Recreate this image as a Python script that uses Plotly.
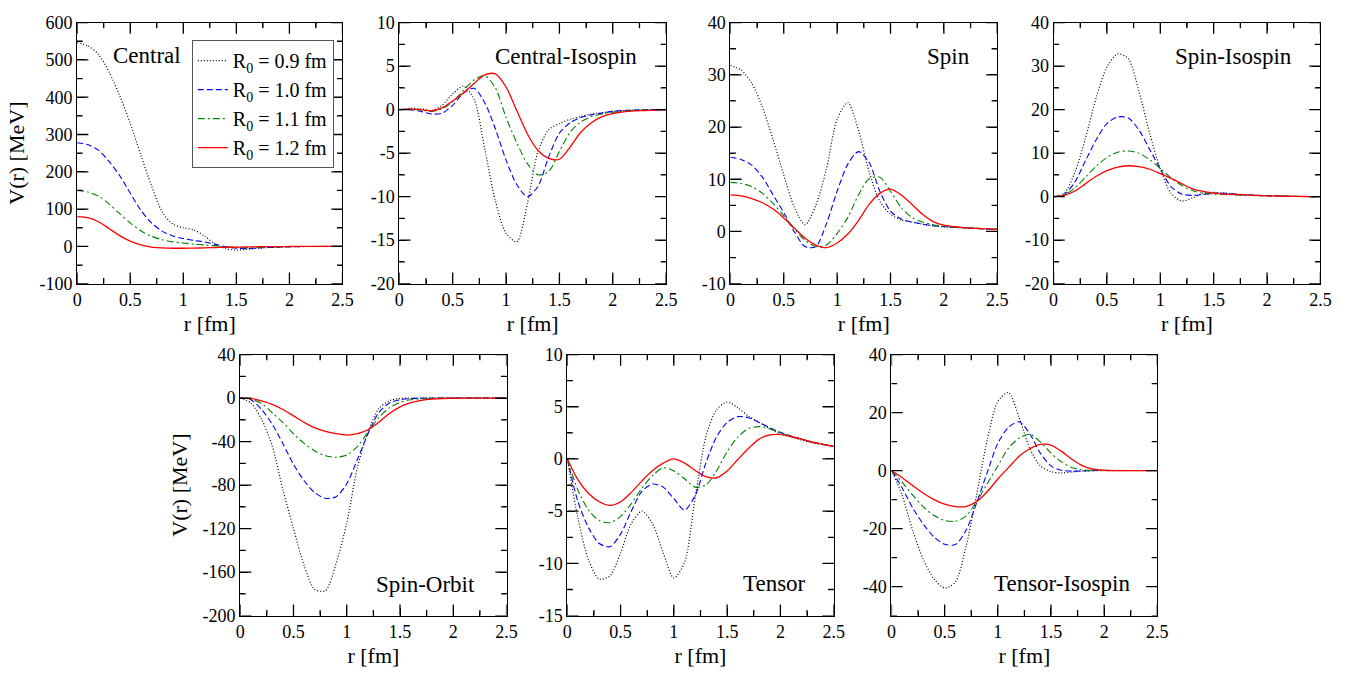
import plotly.graph_objects as go

W, H = 1365, 678

# radial grid [fm]
r = [0.0, 0.1, 0.2, 0.3, 0.4, 0.5, 0.6, 0.7, 0.8, 0.9, 1.0, 1.1, 1.2,
     1.3, 1.4, 1.5, 1.6, 1.7, 1.8, 1.9, 2.0, 2.1, 2.2, 2.3, 2.4, 2.5]

series_names = ["R<sub>0</sub> = 0.9 fm", "R<sub>0</sub> = 1.0 fm",
                "R<sub>0</sub> = 1.1 fm", "R<sub>0</sub> = 1.2 fm"]

# Central
central_09 = [546, 538, 515, 468, 405, 330, 245, 163, 93, 60, 50, 44, 28, 6, -6, -10, -8, -5, -3, -2, -1, -0.5, -0.3, -0.2, -0.1, 0]
central_10 = [278, 273, 258, 228, 190, 143, 97, 63, 41, 28, 21, 16, 12, 6, -1, -5, -6, -4.5, -3, -2, -1, -0.5, -0.3, -0.2, -0.1, 0]
central_11 = [150, 146, 135, 114, 88, 63, 42, 27, 18, 12, 9, 6, 4, 2, -1, -3, -4, -3, -2, -1, -0.5, -0.3, -0.2, -0.1, 0, 0]
central_12 = [80, 77, 66, 48, 29, 14, 4, -2, -4, -5, -5, -4.5, -4, -3, -2.5, -2, -1.5, -1, -0.7, -0.5, -0.3, -0.2, -0.1, 0, 0, 0]

# Central-Isospin
ciso_09 = [0, 0.15, 0.1, -0.1, 0.5, 1.8, 2.7, 1.2, -4.5, -10.5, -14.2, -15.2, -10.8, -4.8, -2.3, -1.6, -1.1, -0.8, -0.5, -0.35, -0.2, -0.1, -0.05, 0, 0, 0]
ciso_10 = [0, 0, -0.2, -0.5, -0.4, 0.5, 1.9, 2.45, 0.8, -2.2, -5.8, -8.6, -10.0, -8.8, -5.4, -2.7, -1.5, -0.9, -0.6, -0.4, -0.2, -0.1, -0.05, 0, 0, 0]
ciso_11 = [0, 0.05, -0.05, -0.2, 0.1, 0.9, 2.2, 3.4, 3.9, 2.5, -0.9, -3.8, -6.2, -7.5, -7.1, -4.8, -2.6, -1.4, -0.8, -0.5, -0.3, -0.2, -0.1, -0.05, 0, 0]
ciso_12 = [0, 0.05, 0, -0.15, 0.2, 1.0, 1.9, 3.0, 4.0, 4.1, 2.6, -0.1, -2.8, -4.7, -5.6, -5.7, -4.3, -2.6, -1.5, -0.8, -0.45, -0.25, -0.15, -0.1, -0.05, 0]

# Spin
spin_09 = [31.8, 30.9, 28.4, 23.8, 17.6, 10.8, 4.6, 1.3, 5.0, 12.0, 21.5, 24.7, 19.4, 11.4, 5.8, 3.3, 2.2, 1.8, 1.4, 1.1, 0.9, 0.8, 0.7, 0.6, 0.5, 0.4]
spin_10 = [14.2, 13.8, 12.7, 10.4, 7.0, 3.6, -0.1, -2.9, -2.9, 1.5, 7.7, 12.9, 15.3, 13.2, 7.7, 3.9, 2.4, 1.8, 1.4, 1.1, 0.9, 0.8, 0.7, 0.6, 0.5, 0.4]
spin_11 = [9.4, 9.2, 8.6, 7.3, 5.4, 3.0, 0.5, -1.7, -2.9, -2.6, -0.4, 2.7, 7.0, 10.1, 10.4, 7.7, 4.6, 2.7, 1.8, 1.3, 1.0, 0.8, 0.7, 0.6, 0.5, 0.4]
spin_12 = [7.0, 6.8, 6.3, 5.5, 4.3, 2.6, 0.6, -1.3, -2.6, -3.1, -2.2, -0.5, 2.1, 5.2, 7.3, 8.1, 7.0, 5.2, 3.3, 1.9, 1.2, 0.9, 0.7, 0.6, 0.5, 0.4]

# Spin-Isospin
siso_09 = [0, 0.8, 5.6, 13.5, 22.8, 29.8, 32.8, 31.7, 24.2, 14.6, 6.4, 0.8, -1.0, -0.3, 0.8, 1.0, 0.8, 0.6, 0.4, 0.3, 0.2, 0.15, 0.1, 0.05, 0.02, 0]
siso_10 = [0, 0.5, 3.4, 8.3, 13.1, 16.8, 18.3, 18.1, 15.3, 10.9, 6.4, 2.3, 0.6, 0.3, 0.5, 0.8, 0.8, 0.6, 0.4, 0.3, 0.2, 0.15, 0.1, 0.05, 0.02, 0]
siso_11 = [0, 0.4, 2.0, 4.5, 7.0, 9.0, 10.2, 10.5, 10.0, 8.5, 6.5, 4.3, 2.6, 1.4, 0.8, 0.6, 0.5, 0.4, 0.3, 0.25, 0.2, 0.15, 0.1, 0.05, 0.02, 0]
siso_12 = [0, 0.3, 1.3, 3.0, 4.7, 6.0, 6.8, 7.1, 6.9, 6.3, 5.3, 4.2, 3.0, 1.8, 1.2, 0.8, 0.6, 0.5, 0.4, 0.3, 0.2, 0.15, 0.1, 0.05, 0.02, 0]

# Spin-Orbit
so_09 = [0, -4.6, -19.4, -44, -84, -120, -154, -176, -177, -152, -115, -64, -31, -10, -2.5, -0.5, 0, 0, 0, 0, 0, 0, 0, 0, 0, 0]
so_10 = [0, -1.5, -10.5, -24, -41.7, -61, -76, -87, -92.2, -90.7, -78.8, -56.5, -32.8, -13.5, -4.6, -1.6, -0.5, -0.2, 0, 0, 0, 0, 0, 0, 0, 0]
so_11 = [0, -1, -5, -13.5, -22.4, -32.8, -41.7, -48.6, -53, -54.5, -52.2, -44.6, -31.3, -17.9, -9, -4, -1.6, -0.7, -0.3, -0.1, 0, 0, 0, 0, 0, 0]
so_12 = [0, -0.5, -2.5, -5.8, -10.5, -16.4, -22.4, -27.4, -30.7, -32.8, -34, -32.8, -29.2, -22.4, -14.3, -8.1, -4.3, -2.2, -1, -0.4, -0.2, 0, 0, 0, 0, 0]

# Tensor
ten_09 = [0, -5.7, -9.7, -11.5, -11.2, -9.0, -6.2, -5.0, -6.2, -9.0, -11.4, -9.9, -3.7, 2.1, 4.7, 5.45, 4.9, 4.1, 3.5, 2.9, 2.4, 2.1, 1.8, 1.55, 1.35, 1.2]
ten_10 = [0, -4.1, -6.6, -8.1, -8.4, -7.2, -5.0, -3.1, -2.4, -2.7, -3.8, -4.9, -3.5, -0.4, 2.1, 3.5, 4.05, 3.95, 3.5, 3.0, 2.55, 2.2, 1.9, 1.6, 1.4, 1.2]
ten_11 = [0, -3.0, -4.9, -5.9, -6.1, -5.5, -4.3, -2.8, -1.6, -0.85, -1.15, -1.9, -2.7, -2.5, -1.15, 0.7, 2.1, 2.9, 3.1, 2.9, 2.5, 2.15, 1.9, 1.6, 1.4, 1.2]
ten_12 = [0, -2.0, -3.3, -4.1, -4.45, -4.1, -3.2, -2.1, -1.1, -0.4, 0.0, -0.4, -1.1, -1.7, -1.8, -1.15, -0.05, 1.0, 1.9, 2.3, 2.35, 2.15, 1.9, 1.6, 1.4, 1.2]

# Tensor-Isospin
tiso_09 = [0, -8.5, -20.7, -30.7, -37.4, -40.5, -38.5, -26.3, -8.5, 10.5, 23.8, 26.9, 18.3, 7.7, 1.6, -0.4, -0.8, -0.5, -0.2, -0.1, 0, 0, 0, 0, 0, 0]
tiso_10 = [0, -6, -12.9, -18.5, -22.9, -25.4, -25.5, -20.7, -11.2, -0.7, 9.4, 14.9, 16.8, 12.7, 6.0, 1.6, 0.1, -0.2, -0.1, 0, 0, 0, 0, 0, 0, 0]
tiso_11 = [0, -4, -8.5, -12.5, -15.5, -17.2, -17.5, -15.7, -10.7, -4.6, 1.6, 7.7, 11.2, 12.5, 9.9, 6.0, 2.9, 1.0, 0.2, 0.05, 0, 0, 0, 0, 0, 0]
tiso_12 = [0, -2.5, -5.2, -7.8, -10.0, -11.6, -12.4, -12.4, -10.7, -7.3, -2.9, 1.0, 4.9, 7.5, 9.0, 8.8, 6.6, 3.8, 1.6, 0.45, 0.1, 0, 0, 0, 0, 0]

# tick labels
x_range = [0, 2.5]
x_ticks = [0, 0.5, 1, 1.5, 2, 2.5]
x_ticklabels = ["0", "0.5", "1", "1.5", "2", "2.5"]
x_minor = [0.25, 0.75, 1.25, 1.75, 2.25]

panels = [
    dict(label="Central", data=[central_09, central_10, central_11, central_12],
         yrange=[-100, 600], yticks=[-100, 0, 100, 200, 300, 400, 500, 600],
         yminor=[-50, 50, 150, 250, 350, 450, 550],
         box=(73, 13, 341.5, 282), lab=(0.127, 0.874, "left")),
    dict(label="Central-Isospin", data=[ciso_09, ciso_10, ciso_11, ciso_12],
         yrange=[-20, 10], yticks=[-20, -15, -10, -5, 0, 5, 10],
         yminor=[-17.5, -12.5, -7.5, -2.5, 2.5, 7.5],
         box=(399, 13, 669, 282), lab=(0.899, 0.87, "right")),
    dict(label="Spin", data=[spin_09, spin_10, spin_11, spin_12],
         yrange=[-10, 40], yticks=[-10, 0, 10, 20, 30, 40],
         yminor=[-5, 5, 15, 25, 35],
         box=(734, 13, 1004, 282), lab=(0.904, 0.87, "right")),
    dict(label="Spin-Isospin", data=[siso_09, siso_10, siso_11, siso_12],
         yrange=[-20, 40], yticks=[-20, -10, 0, 10, 20, 30, 40],
         yminor=[-15, -5, 5, 15, 25, 35],
         box=(1061, 13, 1331, 282), lab=(0.9, 0.87, "right")),
    dict(label="Spin-Orbit", data=[so_09, so_10, so_11, so_12],
         yrange=[-200, 40], yticks=[-200, -160, -120, -80, -40, 0, 40],
         yminor=[-180, -140, -100, -60, -20, 20],
         box=(238, 355, 507.5, 624), lab=(0.89, 0.12, "right")),
    dict(label="Tensor", data=[ten_09, ten_10, ten_11, ten_12],
         yrange=[-15, 10], yticks=[-15, -10, -5, 0, 5, 10],
         yminor=[-12.5, -7.5, -2.5, 2.5, 7.5],
         box=(569, 355, 838.5, 624), lab=(0.904, 0.124, "right")),
    dict(label="Tensor-Isospin", data=[tiso_09, tiso_10, tiso_11, tiso_12],
         yrange=[-50, 40], yticks=[-40, -20, 0, 20, 40],
         yminor=[-50, -30, -10, 10, 30],
         box=(897, 355, 1166, 624), lab=(0.903, 0.124, "right")),
]

line_styles = [
    dict(color="#000000", dash="1px,2px", width=1.2),
    dict(color="#0000ff", dash="6px,3px", width=1.1),
    dict(color="#008000", dash="7px,3px,2px,3px", width=1.1),
    dict(color="#ff0000", dash="solid", width=1.3),
]

MAJOR_LEN, MINOR_LEN = 8, 4
FONT = "Liberation Serif"
fig = go.Figure()
layout = {}
annotations = []


def tick_marks(xs, ys, symbol, length, xa, ya):
    # inward-pointing tick marks: markers centred on the frame, clipped to the plot area
    return go.Scatter(x=xs, y=ys, mode="markers", xaxis=xa, yaxis=ya, showlegend=False,
                      hoverinfo="skip", cliponaxis=True,
                      marker=dict(symbol=symbol, size=2 * length, color="black",
                                  line=dict(color="black", width=1.3)))


for k, p in enumerate(panels, start=1):
    xa = "x" if k == 1 else f"x{k}"
    ya = "y" if k == 1 else f"y{k}"
    for i, ys in enumerate(p["data"]):
        fig.add_trace(go.Scatter(
            x=r, y=ys, mode="lines", line=dict(shape="spline", smoothing=0.8, **line_styles[i]),
            name=series_names[i], showlegend=(k == 1), xaxis=xa, yaxis=ya,
            hoverinfo="skip"))
    y_lo, y_hi = p["yrange"]
    fig.add_trace(tick_marks(x_ticks * 2, [y_lo] * len(x_ticks) + [y_hi] * len(x_ticks),
                             "line-ns", MAJOR_LEN, xa, ya))
    fig.add_trace(tick_marks(x_minor * 2, [y_lo] * len(x_minor) + [y_hi] * len(x_minor),
                             "line-ns", MINOR_LEN, xa, ya))
    fig.add_trace(tick_marks([x_range[0]] * len(p["yticks"]) + [x_range[1]] * len(p["yticks"]),
                             p["yticks"] * 2, "line-ew", MAJOR_LEN, xa, ya))
    fig.add_trace(tick_marks([x_range[0]] * len(p["yminor"]) + [x_range[1]] * len(p["yminor"]),
                             p["yminor"] * 2, "line-ew", MINOR_LEN, xa, ya))

    x0, y0, x1, y1 = p["box"]
    common = dict(showline=True, linecolor="black", linewidth=1.1, mirror="allticks",
                  ticks="inside", ticklen=MAJOR_LEN, tickwidth=1.3, tickcolor="black",
                  showgrid=False, zeroline=False,
                  tickfont=dict(family=FONT, size=18, color="black"))
    minor = dict(ticks="inside", ticklen=MINOR_LEN, tickwidth=1.3, tickcolor="black",
                 showgrid=False)
    layout["xaxis" if k == 1 else f"xaxis{k}"] = dict(
        domain=[x0 / W, x1 / W], range=x_range, anchor=ya,
        tickmode="array", tickvals=x_ticks, ticktext=x_ticklabels,
        minor=dict(tickmode="array", tickvals=x_minor, **minor),
        title=dict(text="r [fm]", font=dict(family=FONT, size=22, color="black"), standoff=6),
        **common)
    yax = dict(
        domain=[1 - y1 / H, 1 - y0 / H], range=p["yrange"], anchor=xa,
        tickmode="array", tickvals=p["yticks"], ticktext=[str(v) for v in p["yticks"]],
        minor=dict(tickmode="array", tickvals=p["yminor"], **minor),
        **common)
    if k in (1, 5):
        yax["title"] = dict(text="V(r) [MeV]", font=dict(family=FONT, size=22, color="black"),
                            standoff=8)
    layout["yaxis" if k == 1 else f"yaxis{k}"] = yax
    lx, ly, anc = p["lab"]
    annotations.append(dict(
        text=p["label"], xref=f"{xa} domain", yref=f"{ya} domain", x=lx, y=ly,
        xanchor=anc, yanchor="middle", showarrow=False,
        font=dict(family=FONT, size=23, color="black")))

fig.update_layout(
    **layout,
    annotations=annotations,
    width=W, height=H,
    margin=dict(l=0, r=0, t=0, b=0),
    paper_bgcolor="white", plot_bgcolor="white",
    font=dict(family=FONT, color="black"),
    legend=dict(x=189 / W, y=1 - 31 / H, xanchor="left", yanchor="top",
                bordercolor="#555555", borderwidth=1, bgcolor="white",
                font=dict(family=FONT, size=20, color="black"),
                itemwidth=30, tracegroupgap=0),
)

fig.write_html("out.html")
